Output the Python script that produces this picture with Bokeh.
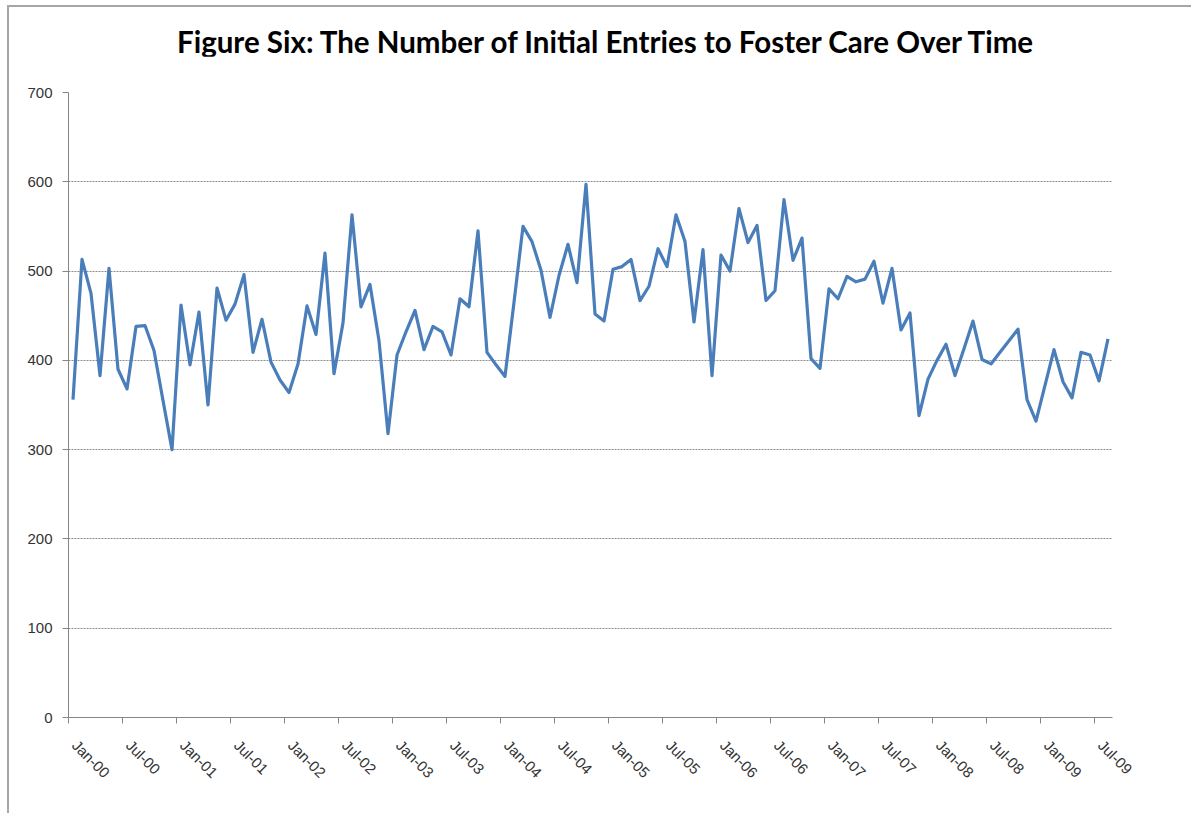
from bokeh.plotting import figure
from bokeh.models import FixedTicker, Range1d, LinearAxis, Div
from bokeh.layouts import column
from bokeh.embed import file_html
from bokeh.resources import INLINE

# Monthly initial entries, Jan-2000 .. Aug-2009
entries = [
    356, 513, 475, 383, 503, 390, 368, 438, 439, 411, 355, 300,
    462, 395, 454, 350, 481, 445, 463, 496, 409, 446, 398, 378,
    364, 396, 461, 429, 520, 385, 442, 563, 460, 485, 422, 318,
    406, 432, 456, 412, 438, 432, 406, 469, 460, 545, 409, 395,
    382, 465, 550, 533, 501, 448, 495, 530, 487, 597, 452, 444,
    502, 505, 513, 467, 483, 525, 505, 563, 533, 443, 524, 383,
    518, 500, 570, 532, 551, 467, 478, 580, 512, 537, 402, 391,
    480, 469, 494, 488, 491, 511, 464, 503, 434, 453, 338, 379,
    400, 418, 383, 413, 444, 401, 396, 409, 422, 435, 356, 332,
    372, 412, 376, 358, 409, 406, 377, 424,
]
month_pos = [i + 0.5 for i in range(len(entries))]

tick_pos = list(range(0, 115, 6))
tick_labels = ["Jan-00", "Jul-00", "Jan-01", "Jul-01", "Jan-02", "Jul-02",
               "Jan-03", "Jul-03", "Jan-04", "Jul-04", "Jan-05", "Jul-05",
               "Jan-06", "Jul-06", "Jan-07", "Jul-07", "Jan-08", "Jul-08",
               "Jan-09", "Jul-09"]
y_ticks = [0, 100, 200, 300, 400, 500, 600, 700]
title_text = "Figure Six: The Number of Initial Entries to Foster Care Over Time"

title_div = Div(
    text=('<div style="position:absolute; left:163px; top:12px; white-space:nowrap; '
          'font-family:Lato; font-size:29.5px; font-weight:bold; color:#000000; '
          'line-height:1.2;">' + title_text + '</div>'),
    width=1170, height=39)

p = figure(width=1182, height=757, output_backend="svg", toolbar_location=None,
           x_range=Range1d(0, 116), y_range=Range1d(0, 700),
           min_border_left=59, min_border_right=79, min_border_top=36, min_border_bottom=96)
p.outline_line_color = None
p.background_fill_color = "white"
p.border_fill_color = "white"

p.line(month_pos, entries, line_color="#4a7ebb", line_width=3.2, line_join="round")

gray = "#868686"
p.xaxis.ticker = FixedTicker(ticks=tick_pos)
p.xaxis.major_label_text_font_size = "0px"
p.xaxis.major_label_text_color = None
p.xaxis.major_label_standoff = 0
p.yaxis.ticker = FixedTicker(ticks=y_ticks)
for ax in (p.xaxis[0], p.yaxis[0]):
    ax.axis_line_color = gray
    ax.major_tick_line_color = gray
    ax.minor_tick_line_color = None
    ax.major_tick_in = 0
    ax.major_tick_out = 6
p.yaxis.major_label_text_font = "Liberation Sans"
p.yaxis.major_label_text_font_size = "15px"
p.yaxis.major_label_text_color = "#333333"
p.yaxis.major_label_standoff = 10

# label axis: same ticks, labels start a little right of each tick (as in Excel)
p.extra_x_ranges = {"lbl": Range1d(-0.7, 115.3)}
lab_axis = LinearAxis(x_range_name="lbl", ticker=FixedTicker(ticks=tick_pos),
                      major_label_overrides={tp: lab for tp, lab in zip(tick_pos, tick_labels)},
                      major_label_orientation=-0.785398,
                      axis_line_color=None, major_tick_line_color=None,
                      minor_tick_line_color=None, major_tick_in=0, major_tick_out=0,
                      major_label_standoff=19,
                      major_label_text_font="Liberation Sans",
                      major_label_text_font_size="15px",
                      major_label_text_color="#333333")
p.add_layout(lab_axis, "below")

p.xgrid.grid_line_color = None
p.ygrid.grid_line_color = "#8c8c8c"
p.ygrid.grid_line_dash = "2 1"
p.ygrid.grid_line_width = 1

layout = column(title_div, p, spacing=0)
layout.styles = {"border-top": "2px solid #a6a6a6", "border-left": "2px solid #a6a6a6",
                 "margin-left": "7px", "margin-top": "5px"}

open("out.html", "w").write(file_html(layout, INLINE))
